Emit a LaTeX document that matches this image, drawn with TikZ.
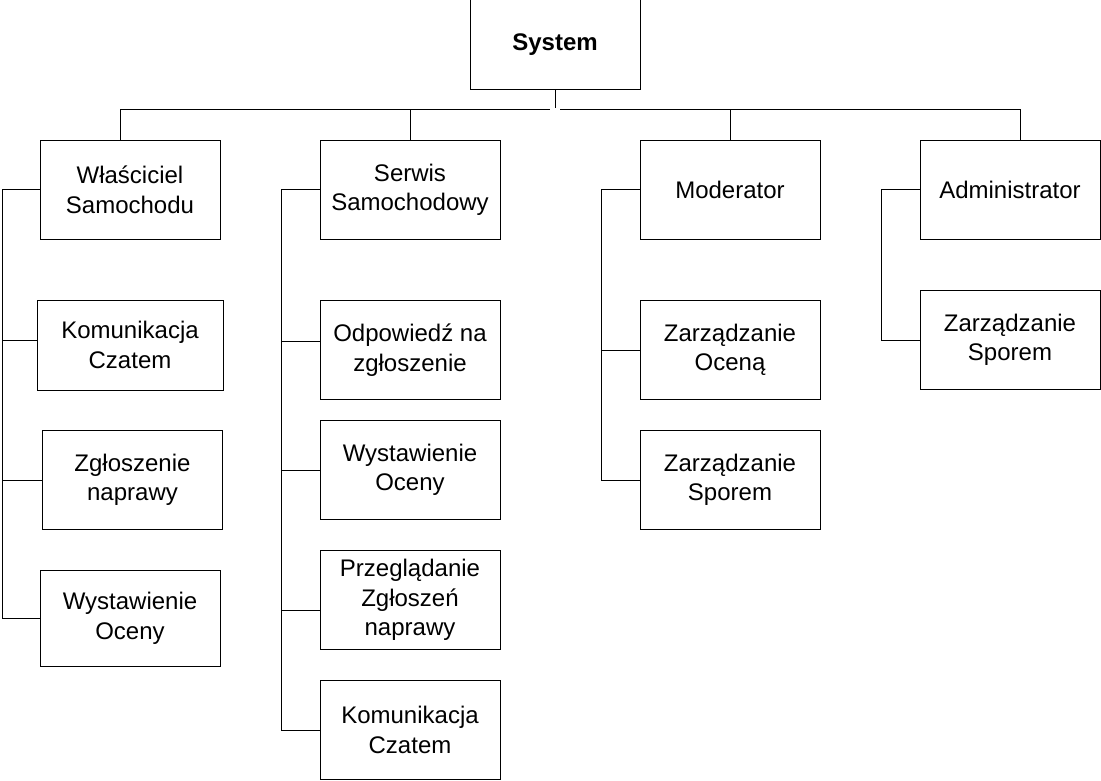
\documentclass[tikz,border=0pt]{standalone}
\usepackage{fontspec}
\setmainfont{Liberation Sans}
\usetikzlibrary{positioning}

\begin{document}
\begin{tikzpicture}[x=1pt, y=-1pt]
            \tikzset{every node/.style={rectangle, draw=black, line width=1pt,
                        inner sep=0pt, outer sep=0pt, align=center,
                        minimum width=180pt, minimum height=99pt,
                        font=\fontsize{24}{29.5}\selectfont},
                    every path/.style={line width=1pt}}
            \useasboundingbox (0,0) rectangle (1101,781);
            % top
            \node[minimum width=170pt, minimum height=90pt, font=\fontsize{24}{29.5}\selectfont\bfseries] (sys) at (555,45) {System};
            % owner
            \node (wlasc) at (130,190) {Właściciel\\Samochodu};
            \node[minimum width=186pt, minimum height=90pt] (wlasc1) at (130,345) {Komunikacja\\Czatem};
            \node (wlasc2) at (132.5,480) {Zgłoszenie\\naprawy};
            \node[minimum height=96pt] (wlasc3) at (130,618.5) {Wystawienie\\Oceny};
            % service
            \node (serw) at (410,190) {Serwis\\Samochodowy};
            \node (serw1) at (410,350) {Odpowiedź na\\zgłoszenie};
            \node (serw2) at (410,470) {Wystawienie\\Oceny};
            \node (serw3) at (410,600) {Przeglądanie\\Zgłoszeń\\naprawy};
            \node (serw4) at (410,730) {Komunikacja\\Czatem};
            % moderator
            \node (mod) at (730,190) {Moderator};
            \node (mod1) at (730,350) {Zarządzanie\\Oceną};
            \node (mod2) at (730,480) {Zarządzanie\\Sporem};
            % admin
            \node (adm) at (1010,190) {Administrator};
            \node (adm1) at (1010,340) {Zarządzanie\\Sporem};
            % bus
            \coordinate (bus) at (555,110);
            \coordinate (busL) at (550,110);
            \coordinate (busR) at (560,110);
            \draw (sys.south) -- ([yshift=2pt]bus);
            \draw ([xshift=-10pt]wlasc.north) |- (busL);
            \draw (serw.north) -- (serw.north |- bus);
            \draw (mod.north) -- (mod.north |- bus);
            \draw ([xshift=10pt]adm.north) |- (busR);
            % trunks
            \coordinate (t1) at (2,190);
            \coordinate (t2) at (281,190);
            \coordinate (t3) at (601,190);
            \coordinate (t4) at (881,190);
            \draw (wlasc.west) -- (t1) |- (wlasc3.west);
            \draw ([yshift=5pt]wlasc1.west) -- ([yshift=5pt]wlasc1.west -| t1);
            \draw (wlasc2.west) -- (wlasc2.west -| t1);
            \draw (serw.west) -- (t2) |- (serw4.west);
            \draw ([yshift=9pt]serw1.west) -- ([yshift=9pt]serw1.west -| t2);
            \draw (serw2.west) -- (serw2.west -| t2);
            \draw ([yshift=-10pt]serw3.west) -- ([yshift=-10pt]serw3.west -| t2);
            \draw (mod.west) -- (t3) |- (mod2.west);
            \draw (mod1.west) -- (mod1.west -| t3);
            \draw (adm.west) -- (t4) |- (adm1.west);
        \end{tikzpicture}
\end{document}
